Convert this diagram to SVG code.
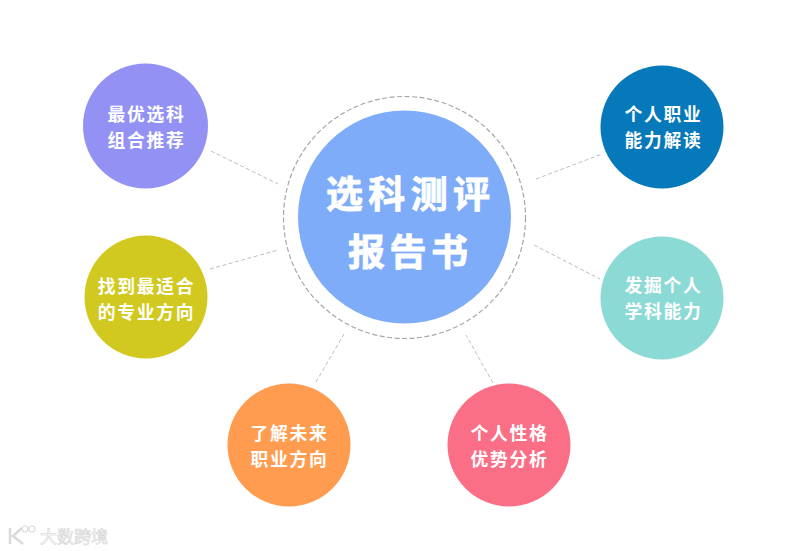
<svg xmlns="http://www.w3.org/2000/svg" width="810" height="551" viewBox="0 0 810 551">
<style>
.t{font-family:"Noto Sans CJK SC","Noto Sans",sans-serif;font-weight:700;fill:#fff;text-anchor:middle}
.n{font-size:17.800px;letter-spacing:1.700px}
.c{font-size:37px;font-weight:700;stroke:#fff;stroke-width:.8px}
.l{fill:none;stroke:#bdbdbd;stroke-width:1;stroke-dasharray:4 2.5}
.w{font-family:"Noto Sans CJK SC",sans-serif;font-size:17px;fill:#fff;stroke:#d2d2d2;stroke-width:.6}
</style>
<rect width="810" height="551" fill="#fff"/>
<g id="connectors">
<line class="l" x1="211" y1="151" x2="278" y2="184"/>
<line class="l" x1="210" y1="269" x2="278" y2="250"/>
<line class="l" x1="316" y1="382" x2="344" y2="334"/>
<line class="l" x1="493" y1="383" x2="466" y2="335"/>
<line class="l" x1="534" y1="245" x2="600" y2="279"/>
<line class="l" x1="536" y1="179" x2="602" y2="154"/>
</g>
<g id="center">
<circle cx="404.500" cy="217.500" r="121" fill="none" stroke="#a6a6a6" stroke-width="1.200" stroke-dasharray="5 2.5"/>
<circle cx="404.500" cy="217" r="106.500" fill="#7eacf8"/>
<text class="t c" x="408" y="208" textLength="164" lengthAdjust="spacing">选科测评</text>
<text class="t c" x="408" y="266" textLength="120" lengthAdjust="spacing">报告书</text>
</g>
<g id="node-tl"><circle cx="145.500" cy="126" r="62.500" fill="#9392f4"/>
<text class="t n" x="146.500" y="120.500">最优选科</text><text class="t n" x="146.500" y="146.500">组合推荐</text></g>
<g id="node-ml"><circle cx="146" cy="297" r="61.500" fill="#d1c91f"/>
<text class="t n" x="146.500" y="292.500">找到最适合</text><text class="t n" x="146.500" y="318.500">的专业方向</text></g>
<g id="node-bl"><circle cx="289" cy="445" r="61.500" fill="#ff9c50"/>
<text class="t n" x="289.500" y="439.500">了解未来</text><text class="t n" x="289.500" y="465.500">职业方向</text></g>
<g id="node-br"><circle cx="509" cy="445" r="61.500" fill="#fb6f86"/>
<text class="t n" x="509.500" y="439.500">个人性格</text><text class="t n" x="509.500" y="465.500">优势分析</text></g>
<g id="node-mr"><circle cx="662" cy="298" r="61.500" fill="#8cdad5"/>
<text class="t n" x="663.500" y="291.500">发掘个人</text><text class="t n" x="663.500" y="317.500">学科能力</text></g>
<g id="node-tr"><circle cx="662" cy="127" r="61.500" fill="#0679ba"/>
<text class="t n" x="663.500" y="120.500">个人职业</text><text class="t n" x="663.500" y="146.500">能力解读</text></g>
<g id="watermark">
<path d="M10 528V544M22 528L13 536L23 544" fill="none" stroke="#dadada" stroke-width="2.500"/>
<circle cx="25" cy="529" r="3" fill="none" stroke="#dadada" stroke-width="1.200"/>
<circle cx="32" cy="529" r="3" fill="none" stroke="#dadada" stroke-width="1.200"/>
<text class="w" x="40" y="543">大数跨境</text>
</g>
</svg>
